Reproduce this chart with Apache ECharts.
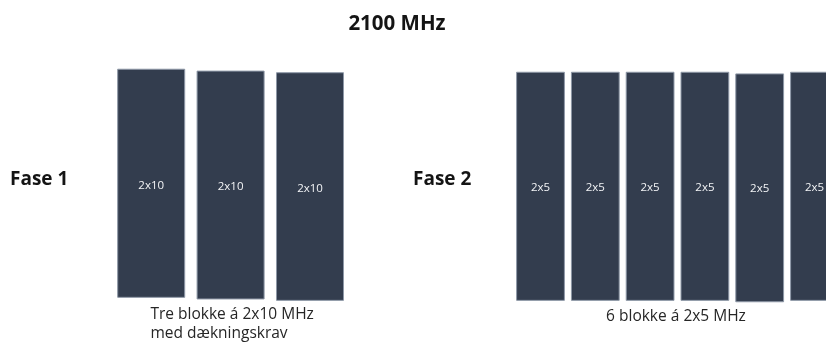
<!DOCTYPE html>
<html>
<head>
<meta charset="utf-8">
<title>2100 MHz</title>
<script src="https://cdn.jsdelivr.net/npm/echarts@6/dist/echarts.min.js"></script>
<style>
    html, body { margin: 0; padding: 0; background: #fff; }
    #main { width: 826px; height: 343px; }
</style>
</head>
<body>
<div id="main"></div>
<script>
    // blokke i fase 1 og fase 2 (top/bund aflæst på en 0-100 skala)
    var fase1Labels = ['2x10', '2x10', '2x10'];
    var fase1Top = [99.9, 99.1, 98.4];
    var fase1Bottom = [2.0, 1.3, 0.7];

    var fase2Labels = ['2x5', '2x5', '2x5', '2x5', '2x5', '2x5'];
    var fase2Top = [98.6, 98.6, 98.6, 98.6, 97.9, 98.6];
    var fase2Bottom = [0.7, 0.7, 0.7, 0.7, 0.1, 0.7];

    var fase1Caption = 'Tre blokke á 2x10 MHz\nmed dækningskrav';
    var fase2Caption = '6 blokke á 2x5 MHz';

    function toData(bottom, top) {
        var out = [];
        for (var i = 0; i < top.length; i++) {
            out.push([i, bottom[i], top[i]]);
        }
        return out;
    }

    function blockRenderer(labels, widthRatio, labelOffset) {
        return function (params, api) {
            var i = api.value(0);
            var p1 = api.coord([i, api.value(2)]);
            var p2 = api.coord([i, api.value(1)]);
            var w = api.size([1, 0])[0] * widthRatio;
            return {
                type: 'rect',
                shape: { x: p1[0] - w / 2, y: p1[1], width: w, height: p2[1] - p1[1] },
                style: { fill: '#333d4e', stroke: '#8e98a7', lineWidth: 1 },
                textContent: {
                    style: { text: labels[params.dataIndex], fill: '#f3f4f6', font: '11.5px "Open Sans"' }
                },
                textConfig: { position: 'inside', offset: [0, labelOffset] }
            };
        };
    }

    var myChart = echarts.init(document.getElementById('main'));

    myChart.setOption({
        animation: false,
        grid: [
            { left: 111.5, top: 69, width: 238.2, height: 233, outerBoundsMode: 'none' },
            // sidste blok går ud over kanten
            { left: 513.1, top: 69, width: 328.8, height: 233, outerBoundsMode: 'none' }
        ],
        xAxis: [
            { type: 'category', gridIndex: 0, data: fase1Labels, show: false },
            { type: 'category', gridIndex: 1, data: fase2Labels, show: false }
        ],
        yAxis: [
            { type: 'value', gridIndex: 0, min: 0, max: 100, show: false },
            { type: 'value', gridIndex: 1, min: 0, max: 100, show: false }
        ],
        graphic: [
            { type: 'text', x: 397, y: 24.5,
              style: { text: '2100 MHz', font: 'bold 20.5px "Open Sans"', fill: '#141414', align: 'center', verticalAlign: 'middle' } },
            { type: 'text', x: 10, y: 179.6,
              style: { text: 'Fase 1', font: 'bold 19px "Open Sans"', fill: '#141414', align: 'left', verticalAlign: 'middle' } },
            { type: 'text', x: 413, y: 179.6,
              style: { text: 'Fase 2', font: 'bold 19px "Open Sans"', fill: '#141414', align: 'left', verticalAlign: 'middle' } },
            { type: 'text', x: 150.5, y: 305.5,
              style: { text: fase1Caption, font: '15.5px "Open Sans"', lineHeight: 18.5, fill: '#262626', align: 'left', verticalAlign: 'top' } },
            { type: 'text', x: 676, y: 317,
              style: { text: fase2Caption, font: '15.5px "Open Sans"', fill: '#262626', align: 'center', verticalAlign: 'middle' } }
        ],
        series: [
            {
                type: 'custom',
                xAxisIndex: 0,
                yAxisIndex: 0,
                renderItem: blockRenderer(fase1Labels, 0.844, 2),
                encode: { x: 0, y: [1, 2] },
                data: toData(fase1Bottom, fase1Top)
            },
            {
                type: 'custom',
                xAxisIndex: 1,
                yAxisIndex: 1,
                renderItem: blockRenderer(fase2Labels, 0.872, 1),
                encode: { x: 0, y: [1, 2] },
                data: toData(fase2Bottom, fase2Top)
            }
        ]
    });
</script>
</body>
</html>
